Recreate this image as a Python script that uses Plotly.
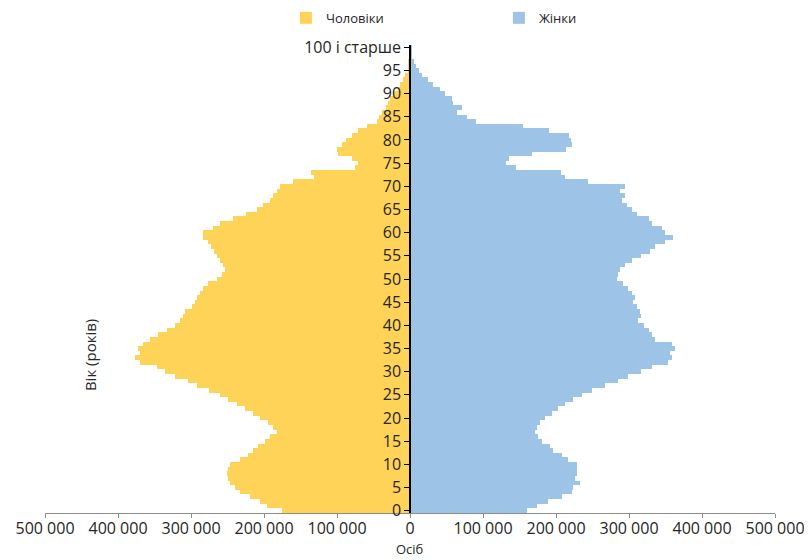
import plotly.graph_objects as go

ages = list(range(0, 101))

# Чоловіки (men), persons per single year of age 0..100+
men = [
    175000, 196000, 205000, 219000, 233000, 240000, 247000, 249000, 251000, 249000,
    247000, 233000, 222000, 215000, 208000, 199000, 192000, 182000, 187000, 194000,
    205000, 215000, 226000, 237000, 249000, 260000, 276000, 292000, 304000, 322000,
    336000, 347000, 370000, 377000, 370000, 372000, 366000, 356000, 345000, 333000,
    322000, 315000, 311000, 308000, 299000, 295000, 292000, 288000, 283000, 277000,
    265000, 258000, 253000, 256000, 260000, 265000, 269000, 272000, 277000, 283000,
    283000, 270000, 260000, 242000, 224000, 210000, 201000, 192000, 187000, 182000,
    178000, 160000, 132000, 135000, 75000, 71000, 80000, 98000, 100000, 93000,
    87000, 80000, 71000, 59000, 45000, 43000, 38000, 33000, 30000, 27000,
    23000, 17000, 14000, 9000, 7000, 3000, 2000, 1500, 1000, 500,
    800,
]

# Жінки (women)
women = [
    160000, 174000, 189000, 208000, 222000, 223000, 233000, 226000, 229000, 229000,
    229000, 216000, 208000, 196000, 192000, 181000, 176000, 171000, 174000, 178000,
    185000, 194000, 203000, 212000, 223000, 235000, 249000, 267000, 285000, 299000,
    317000, 331000, 353000, 359000, 356000, 363000, 359000, 336000, 331000, 327000,
    320000, 313000, 317000, 315000, 311000, 306000, 308000, 304000, 299000, 292000,
    283000, 285000, 288000, 295000, 304000, 317000, 329000, 336000, 349000, 360000,
    349000, 345000, 331000, 327000, 311000, 304000, 297000, 290000, 295000, 288000,
    295000, 244000, 213000, 207000, 145000, 132000, 135000, 167000, 214000, 222000,
    220000, 218000, 190000, 155000, 90000, 78000, 64000, 71000, 59000, 57000,
    48000, 41000, 31000, 25000, 17000, 12000, 8000, 5000, 3000, 2000,
    3000,
]

y_tickvals = list(range(0, 101, 5))
y_ticktext = [str(v) for v in range(0, 100, 5)] + ["100 і старше"]

x_tickvals = [-500000, -400000, -300000, -200000, -100000, 0,
              100000, 200000, 300000, 400000, 500000]
x_ticktext = ["500 000", "400 000", "300 000", "200 000", "100 000", "0",
              "100 000", "200 000", "300 000", "400 000", "500 000"]

fig = go.Figure()
fig.add_trace(go.Bar(
    y=ages, x=[-v for v in men], orientation="h", name="Чоловіки",
    marker=dict(color="#FFD357", line=dict(width=0)),
))
fig.add_trace(go.Bar(
    y=ages, x=women, orientation="h", name="Жінки",
    marker=dict(color="#9DC3E6", line=dict(width=0)),
))

font_family = "Open Sans, Noto Sans, DejaVu Sans, sans-serif"

fig.update_layout(
    width=804, height=552,
    margin=dict(l=37, r=37, t=37, b=47, autoexpand=False),
    paper_bgcolor="white", plot_bgcolor="white",
    barmode="relative", bargap=0,
    font=dict(family=font_family, color="#262626"),
    showlegend=True,
    legend=dict(
        orientation="h", x=0.33, y=1.09, xanchor="left", yanchor="top",
        font=dict(size=13, color="#262626"),
        entrywidth=168, entrywidthmode="pixels",
        itemwidth=30, traceorder="normal",
    ),
    xaxis=dict(
        range=[-500000, 500000],
        tickvals=x_tickvals, ticktext=x_ticktext,
        tickfont=dict(size=16, color="#262626"),
        showgrid=False, zeroline=False,
        showline=True, linecolor="#8c8c8c", linewidth=1,
        ticks="outside", ticklen=4, tickcolor="#8c8c8c",
        ticklabelstandoff=-3,
        automargin=False,
    ),
    yaxis=dict(
        range=[-0.5, 100.5],
        tickvals=y_tickvals, ticktext=y_ticktext,
        tickfont=dict(size=16, color="#262626"),
        showgrid=False, zeroline=False,
        showline=True, linecolor="black", linewidth=1.5,
        ticks="outside", ticklen=5, tickcolor="black",
        anchor="free", position=0.5, automargin=False,
    ),
    annotations=[
        dict(text="Вік (років)", x=0.062, y=0.338, xref="paper", yref="paper",
             textangle=-90, showarrow=False, font=dict(size=15, color="#262626"),
             xanchor="center", yanchor="middle"),
        dict(text="Осіб", x=0.5, y=-0.1, xref="paper", yref="paper",
             showarrow=False, font=dict(size=13, color="#262626"),
             xanchor="center", yanchor="bottom"),
    ],
)

fig.write_html("out.html")
